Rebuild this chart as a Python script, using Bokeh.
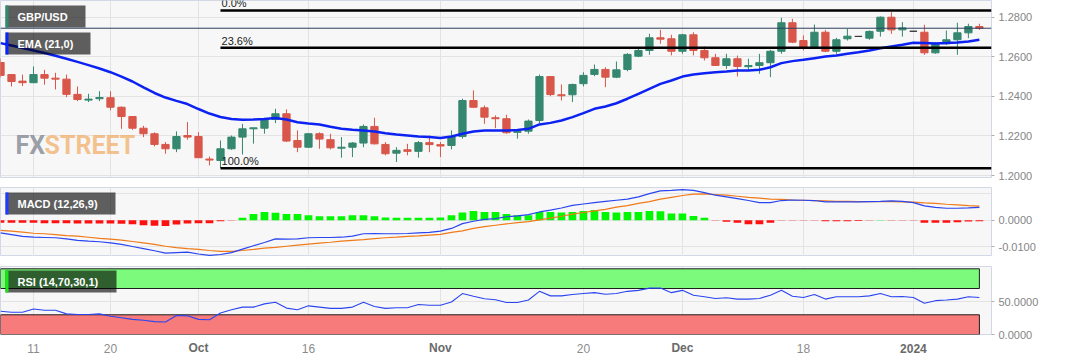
from bokeh.plotting import figure
from bokeh.layouts import column
from bokeh.models import (Range1d, FixedTicker, NumeralTickFormatter, Label,
                          BoxAnnotation, Span, ColumnDataSource)
from bokeh.core.properties import value
from bokeh.embed import file_html
from bokeh.resources import INLINE

# ---------------- data (daily GBP/USD, 6 Sep 2023 .. 9 Jan 2024) ----------------
opens = [1.2571, 1.2510, 1.2477, 1.2469, 1.2510, 1.2492, 1.2487, 1.2410, 1.2381, 1.2388,
         1.2393, 1.2345, 1.2298, 1.2239, 1.2211, 1.2157, 1.2135, 1.2202, 1.2197, 1.2083,
         1.2076, 1.2135, 1.2194, 1.2236, 1.2239, 1.2283, 1.2312, 1.2177, 1.2143, 1.2211,
         1.2181, 1.2138, 1.2143, 1.2164, 1.2248, 1.2157, 1.2113, 1.2130, 1.2122, 1.2166,
         1.2156, 1.2152, 1.2197, 1.2379, 1.2342, 1.2292, 1.2287, 1.2218, 1.2224, 1.2278,
         1.2500, 1.2408, 1.2408, 1.2464, 1.2511, 1.2536, 1.2497, 1.2536, 1.2603, 1.2632,
         1.2696, 1.2691, 1.2628, 1.2711, 1.2632, 1.2595, 1.2556, 1.2590, 1.2550, 1.2556,
         1.2570, 1.2628, 1.2772, 1.2682, 1.2648, 1.2724, 1.2628, 1.2691, 1.2703, 1.2694,
         1.2729, 1.2800, 1.2736, 1.2729, 1.2724, 1.2620, 1.2666, 1.2686, 1.2721, 1.2753]
highs = [1.2591, 1.2512, 1.2510, 1.2551, 1.2534, 1.2519, 1.2510, 1.2450, 1.2413, 1.2426,
         1.2426, 1.2349, 1.2298, 1.2251, 1.2218, 1.2169, 1.2223, 1.2270, 1.2219, 1.2096,
         1.2177, 1.2202, 1.2261, 1.2241, 1.2292, 1.2337, 1.2334, 1.2228, 1.2214, 1.2218,
         1.2211, 1.2194, 1.2169, 1.2258, 1.2292, 1.2169, 1.2143, 1.2160, 1.2174, 1.2202,
         1.2169, 1.2228, 1.2388, 1.2430, 1.2354, 1.2304, 1.2307, 1.2223, 1.2283, 1.2510,
         1.2500, 1.2460, 1.2464, 1.2522, 1.2561, 1.2547, 1.2576, 1.2618, 1.2645, 1.2716,
         1.2736, 1.2711, 1.2716, 1.2724, 1.2652, 1.2615, 1.2615, 1.2606, 1.2590, 1.2615,
         1.2635, 1.2797, 1.2792, 1.2708, 1.2763, 1.2736, 1.2696, 1.2741, 1.2705, 1.2733,
         1.2804, 1.2825, 1.2775, 1.2730, 1.2762, 1.2674, 1.2733, 1.2772, 1.2767, 1.2767]
lows = [1.2495, 1.2450, 1.2452, 1.2467, 1.2459, 1.2435, 1.2396, 1.2376, 1.2371, 1.2376,
        1.2329, 1.2236, 1.2231, 1.2194, 1.2147, 1.2110, 1.2118, 1.2181, 1.2088, 1.2051,
        1.2037, 1.2130, 1.2106, 1.2161, 1.2211, 1.2265, 1.2169, 1.2118, 1.2140, 1.2135,
        1.2132, 1.2090, 1.2093, 1.2143, 1.2157, 1.2102, 1.2068, 1.2102, 1.2090, 1.2118,
        1.2093, 1.2132, 1.2186, 1.2342, 1.2261, 1.2239, 1.2211, 1.2186, 1.2211, 1.2265,
        1.2401, 1.2379, 1.2371, 1.2450, 1.2502, 1.2446, 1.2492, 1.2527, 1.2598, 1.2610,
        1.2666, 1.2607, 1.2615, 1.2607, 1.2581, 1.2556, 1.2539, 1.2500, 1.2534, 1.2514,
        1.2497, 1.2615, 1.2669, 1.2632, 1.2640, 1.2623, 1.2615, 1.2682, 1.2700, 1.2686,
        1.2702, 1.2716, 1.2702, 1.2728, 1.2610, 1.2615, 1.2660, 1.2610, 1.2694, 1.2736]
closes = [1.2506, 1.2475, 1.2469, 1.2510, 1.2492, 1.2487, 1.2410, 1.2384, 1.2386, 1.2394,
          1.2345, 1.2298, 1.2239, 1.2211, 1.2157, 1.2135, 1.2197, 1.2194, 1.2090, 1.2078,
          1.2135, 1.2194, 1.2236, 1.2241, 1.2287, 1.2312, 1.2174, 1.2143, 1.2211, 1.2184,
          1.2140, 1.2143, 1.2164, 1.2248, 1.2160, 1.2110, 1.2127, 1.2122, 1.2166, 1.2156,
          1.2149, 1.2197, 1.2379, 1.2345, 1.2295, 1.2287, 1.2216, 1.2223, 1.2275, 1.2500,
          1.2409, 1.2403, 1.2460, 1.2506, 1.2536, 1.2497, 1.2534, 1.2612, 1.2632, 1.2696,
          1.2689, 1.2628, 1.2711, 1.2632, 1.2595, 1.2556, 1.2590, 1.2551, 1.2556, 1.2570,
          1.2628, 1.2772, 1.2674, 1.2648, 1.2724, 1.2628, 1.2686, 1.2704, 1.2703, 1.2728,
          1.2800, 1.2736, 1.2746, 1.2729, 1.2620, 1.2666, 1.2686, 1.2721, 1.2753, 1.2744]
ema21 = [1.2669, 1.2657, 1.2644, 1.2632, 1.2619, 1.2605, 1.2590, 1.2574, 1.2558, 1.2541,
         1.2522, 1.2500, 1.2475, 1.2445, 1.2417, 1.2394, 1.2377, 1.2361, 1.2336, 1.2313,
         1.2296, 1.2286, 1.2282, 1.2283, 1.2286, 1.2291, 1.2283, 1.2269, 1.2263, 1.2258,
         1.2246, 1.2236, 1.2231, 1.2227, 1.2222, 1.2214, 1.2207, 1.2202, 1.2197, 1.2194,
         1.2190, 1.2197, 1.2211, 1.2222, 1.2227, 1.2227, 1.2227, 1.2230, 1.2236, 1.2258,
         1.2266, 1.2278, 1.2295, 1.2315, 1.2337, 1.2349, 1.2365, 1.2388, 1.2413, 1.2438,
         1.2463, 1.2480, 1.2500, 1.2510, 1.2517, 1.2522, 1.2526, 1.2531, 1.2531, 1.2534,
         1.2547, 1.2568, 1.2578, 1.2585, 1.2593, 1.2601, 1.2606, 1.2615, 1.2623, 1.2632,
         1.2643, 1.2652, 1.2661, 1.2671, 1.2669, 1.2667, 1.2669, 1.2672, 1.2677, 1.2686]
macd = [-0.0048, -0.0054, -0.0061, -0.0064, -0.0065, -0.0066, -0.0070, -0.0076, -0.0079, -0.0081,
        -0.0085, -0.0091, -0.0099, -0.0107, -0.0115, -0.0124, -0.0122, -0.0120, -0.0127, -0.0132,
        -0.0129, -0.0122, -0.0109, -0.0096, -0.0084, -0.0070, -0.0071, -0.0070, -0.0066, -0.0065,
        -0.0065, -0.0064, -0.0060, -0.0051, -0.0050, -0.0051, -0.0051, -0.0050, -0.0048, -0.0046,
        -0.0041, -0.0031, -0.0013, -0.0004, 0.0003, 0.0006, 0.0013, 0.0016, 0.0021, 0.0031,
        0.0038, 0.0046, 0.0056, 0.0061, 0.0066, 0.0071, 0.0075, 0.0079, 0.0088, 0.0100,
        0.0110, 0.0112, 0.0115, 0.0112, 0.0104, 0.0094, 0.0088, 0.0081, 0.0074, 0.0066,
        0.0066, 0.0074, 0.0076, 0.0075, 0.0074, 0.0069, 0.0069, 0.0069, 0.0069, 0.0070,
        0.0071, 0.0073, 0.0071, 0.0066, 0.0054, 0.0048, 0.0045, 0.0045, 0.0046, 0.0048]
signal = [-0.0038, -0.0041, -0.0045, -0.0049, -0.0051, -0.0054, -0.0058, -0.0060, -0.0064, -0.0068,
          -0.0071, -0.0075, -0.0080, -0.0085, -0.0091, -0.0098, -0.0103, -0.0107, -0.0110, -0.0114,
          -0.0117, -0.0117, -0.0114, -0.0110, -0.0105, -0.0102, -0.0098, -0.0094, -0.0090, -0.0086,
          -0.0083, -0.0079, -0.0076, -0.0073, -0.0069, -0.0066, -0.0064, -0.0061, -0.0059, -0.0056,
          -0.0053, -0.0046, -0.0040, -0.0031, -0.0024, -0.0019, -0.0014, -0.0009, -0.0005, 0.0001,
          0.0008, 0.0015, 0.0023, 0.0029, 0.0035, 0.0041, 0.0049, 0.0055, 0.0063, 0.0070,
          0.0079, 0.0086, 0.0093, 0.0098, 0.0099, 0.0096, 0.0094, 0.0090, 0.0086, 0.0083,
          0.0079, 0.0078, 0.0076, 0.0075, 0.0074, 0.0073, 0.0071, 0.0071, 0.0070, 0.0070,
          0.0070, 0.0070, 0.0069, 0.0068, 0.0065, 0.0063, 0.0060, 0.0058, 0.0055, 0.0053]
hist = [-0.0010, -0.0010, -0.0010, -0.0010, -0.0011, -0.0011, -0.0011, -0.0012, -0.0012, -0.0012,
        -0.0012, -0.0013, -0.0015, -0.0019, -0.0021, -0.0022, -0.0016, -0.0012, -0.0011, -0.0011,
        -0.0004, -0.0001, 0.0009, 0.0023, 0.0031, 0.0028, 0.0023, 0.0023, 0.0019, 0.0015,
        0.0015, 0.0015, 0.0019, 0.0019, 0.0015, 0.0010, 0.0009, 0.0009, 0.0009, 0.0009,
        0.0010, 0.0019, 0.0029, 0.0035, 0.0031, 0.0031, 0.0023, 0.0019, 0.0019, 0.0031,
        0.0031, 0.0029, 0.0031, 0.0035, 0.0038, 0.0031, 0.0029, 0.0031, 0.0031, 0.0035,
        0.0034, 0.0025, 0.0025, 0.0016, 0.0009, -0.0001, -0.0006, -0.0010, -0.0015, -0.0015,
        -0.0010, -0.0001, -0.0001, -0.0001, -0.0001, -0.0004, -0.0004, -0.0004, -0.0003, -0.0001,
        0.0001, -0.0001, -0.0001, -0.0001, -0.0010, -0.0010, -0.0010, -0.0008, -0.0005, -0.0004]
rsi = [35.3, 33.8, 33.8, 38.7, 36.8, 36.8, 31.4, 30.4, 30.4, 31.4,
       27.9, 25.5, 23.0, 21.6, 19.6, 19.1, 28.9, 28.4, 23.0, 22.5,
       32.8, 37.7, 41.7, 41.7, 46.6, 49.0, 40.2, 37.7, 43.6, 41.7,
       39.7, 39.7, 41.7, 49.0, 42.6, 39.7, 40.7, 40.7, 45.6, 44.6,
       44.6, 49.5, 62.3, 58.3, 54.4, 53.0, 48.6, 48.6, 52.5, 65.7,
       58.8, 58.8, 60.8, 62.3, 63.7, 61.3, 62.3, 65.7, 67.2, 70.6,
       70.6, 63.7, 67.2, 59.8, 57.4, 54.9, 55.9, 53.9, 53.9, 54.9,
       59.8, 67.2, 58.3, 56.4, 60.8, 53.9, 57.4, 57.4, 57.4, 58.8,
       62.3, 57.4, 57.8, 56.4, 47.5, 51.5, 52.5, 53.9, 57.4, 56.4]
last_price = 1.274430
fib_high = 1.2834
fib_low = 1.2037
fib_start = 20
fib_pcts = [0.0, 23.6, 100.0]
fib_texts = ["0.0%", "23.6%", "100.0%"]
price_ticks = [1.20, 1.22, 1.24, 1.26, 1.28]
macd_ticks = [-0.01, 0.0]
rsi_ticks = [0, 50]
rsi_upper, rsi_lower = 70, 30
day_ticks = [3, 10, 28, 53, 73]
day_labels = ["11", "20", "16", "20", "18"]
month_ticks = [18, 40, 62, 83]
month_labels = ["Oct", "Nov", "Dec", "2024"]

# ---------------- layout / styling ----------------
W, RB = 1067, 76
F1, F2, F3 = 177, 69, 68          # frame heights
B1 = 10                           # gap below price panel (holds the panel handle)
T2, T3 = 0, 10                    # top borders of MACD / RSI panels
B3 = 6                            # room for the "0.0000" label under the RSI panel
H4 = 20
FONT = "Liberation Sans"
n = len(opens)
xs = list(range(n))
xr = Range1d(0, 90.1)
all_ticks = sorted(day_ticks + month_ticks)


def make_panel(frame_h, yr, top_border, bottom_border, axis_ticks, grid_ticks):
    p = figure(width=W, height=frame_h + top_border + bottom_border, x_range=xr, y_range=yr,
               output_backend="svg", toolbar_location=None,
               x_axis_location=None, y_axis_location="right",
               min_border_left=0, min_border_right=RB,
               min_border_top=top_border, min_border_bottom=bottom_border,
               background_fill_color="#f7f7f7", border_fill_color="white",
               outline_line_color="#d2d8e5")
    p.xgrid.ticker = FixedTicker(ticks=all_ticks)
    p.ygrid.ticker = FixedTicker(ticks=grid_ticks)
    p.grid.grid_line_color = "#e3e3e3"
    ax = p.yaxis[0]
    ax.ticker = FixedTicker(ticks=axis_ticks)
    ax.formatter = NumeralTickFormatter(format="0.0000")
    ax.axis_line_color = None
    ax.major_tick_line_color = "#b0b0b0"
    ax.major_tick_in = 0
    ax.major_tick_out = 3
    ax.minor_tick_line_color = None
    ax.major_label_text_font = FONT
    ax.major_label_text_font_size = "11px"
    ax.major_label_text_color = "#858585"
    ax.major_label_standoff = 4
    return p


def add_tag(p, frame_h, top_off, width, text, bar_color):
    top = frame_h - top_off
    bottom = top - 22
    p.add_layout(BoxAnnotation(left=5, right=5 + width, top=top, bottom=bottom,
                               left_units="screen", right_units="screen",
                               top_units="screen", bottom_units="screen",
                               fill_color="black", fill_alpha=0.62, line_color=None))
    p.add_layout(BoxAnnotation(left=5, right=8, top=top, bottom=bottom,
                               left_units="screen", right_units="screen",
                               top_units="screen", bottom_units="screen",
                               fill_color=bar_color, fill_alpha=1.0, line_color=None))
    p.add_layout(Label(x=17, y=(top + bottom) / 2, x_units="screen", y_units="screen",
                       text=text, text_font=FONT, text_font_size="11px",
                       text_font_style="bold", text_color="white",
                       text_baseline="middle"))


def add_handle(p, y):
    p.add_layout(Label(x=493, y=y, x_units="screen", y_units="screen",
                       text="\u2261", text_font="DejaVu Sans", text_font_size="9px",
                       text_color="#7a7a7a", text_align="center", text_baseline="middle"))


# ---------------- main price panel ----------------
p1 = make_panel(F1, Range1d(1.19899, 1.28844), 0, B1, price_ticks, price_ticks)

colors = []
for o, c in zip(opens, closes):
    colors.append("#35876f" if c > o else ("#d8574a" if c < o else "#3a3a3a"))
src = ColumnDataSource(dict(x=xs, h=highs, l=lows,
                            top=[max(o, c) for o, c in zip(opens, closes)],
                            bottom=[min(o, c) for o, c in zip(opens, closes)],
                            color=colors))
p1.segment(x0="x", y0="h", x1="x", y1="l", line_color="color", line_width=1, source=src)
p1.vbar(x="x", top="top", bottom="bottom", width=0.66, fill_color="color",
        line_color="color", line_width=1, source=src)

p1.line(xs, ema21, line_color="#0b22f2", line_width=2.5)

p1.add_layout(Span(location=last_price, dimension="width", line_color="#2b3f5e", line_width=1))

fib_prices = [fib_high - (fib_high - fib_low) * f / 100.0 for f in fib_pcts]
p1.segment(x0=[fib_start] * 3, y0=fib_prices, x1=[xr.end] * 3, y1=fib_prices,
           line_color="black", line_width=2.5)
for fp, ft in zip(fib_prices, fib_texts):
    p1.add_layout(Label(x=fib_start + 0.1, y=fp, x_units="data", y_units="data", y_offset=1,
                        text=ft, text_font=FONT, text_font_size="11px", text_color="#222222",
                        text_baseline="bottom", text_align="left"))

# watermark
p1.add_layout(Label(x=15, y=32, x_units="screen", y_units="screen", text="FX",
                    text_font="Roboto", text_font_style="bold", text_font_size="25px",
                    text_color="#8a8f9a", text_alpha=0.85, text_baseline="middle"))
p1.add_layout(Label(x=44, y=32, x_units="screen", y_units="screen", text="STREET",
                    text_font="Roboto", text_font_style="bold", text_font_size="25px",
                    text_color="#f2b06c", text_alpha=0.75, text_baseline="middle"))

add_tag(p1, F1, 5, 80, "GBP/USD", "#2e8a70")
add_tag(p1, F1, 32, 85, "EMA (21,0)", "#0a24ff")
add_handle(p1, -5)

# current price marker
p1.add_layout(Label(x=xr.end, y=last_price, x_units="data", y_units="data", x_offset=2,
                    text="\u25c0", text_font="DejaVu Sans", text_font_size="11px",
                    text_color="#2e4466", text_baseline="middle"))
p1.add_layout(Label(x=xr.end, y=last_price, x_units="data", y_units="data", x_offset=10,
                    text="%.6f" % last_price, text_font=FONT, text_font_size="11px",
                    text_font_style="bold", text_color="white", text_baseline="middle",
                    background_fill_color="#2e4466", background_fill_alpha=1.0,
                    padding=2))

# ---------------- MACD panel ----------------
p2 = make_panel(F2, Range1d(-0.01365, 0.0123), T2, 0, macd_ticks, [-0.01, 0.0, 0.01])
hist_colors = ["#00f700" if v > 0 else "#ff1010" for v in hist]
p2.vbar(x=xs, top=hist, bottom=0, width=0.7, fill_color=hist_colors, line_color=None)
p2.line(xs, signal, line_color="#f07a18", line_width=1.2)
p2.line(xs, macd, line_color="#2a45f0", line_width=1.2)
add_tag(p2, F2, 5, 110, "MACD (12,26,9)", "#1f3cff")

# ---------------- RSI panel ----------------
p3 = make_panel(F3, Range1d(0, 103.5), T3, B3, rsi_ticks, [50])
p3.quad(left=[xs[0]], right=[xs[-1]], bottom=[rsi_upper], top=[100],
        fill_color="#7cfa7c", line_color="#1e1e1e", line_width=1)
p3.quad(left=[xs[0]], right=[xs[-1]], bottom=[0], top=[rsi_lower],
        fill_color="#f87b7b", line_color="#1e1e1e", line_width=1)
p3.line(xs, rsi, line_color="#2a45f0", line_width=1.1)
add_tag(p3, F3, 4, 111, "RSI (14,70,30,1)", "#19e619")
add_handle(p3, F3 + 5)

# ---------------- date axis strip ----------------
p4 = figure(width=W, height=H4, x_range=xr, y_range=Range1d(0, 1),
            output_backend="svg", toolbar_location=None,
            x_axis_location=None, y_axis_location=None,
            min_border_left=0, min_border_right=RB, min_border_top=0, min_border_bottom=0,
            background_fill_color="white", border_fill_color="white", outline_line_color=None)
p4.grid.visible = False
p4.text(x=day_ticks, y=[0.62] * len(day_ticks), text=day_labels,
        text_font=value(FONT), text_font_size="12px", text_color="#8c8c8c",
        text_align="center", text_baseline="middle")
p4.text(x=month_ticks, y=[0.62] * len(month_ticks), text=month_labels,
        text_font=value(FONT), text_font_size="12px", text_font_style=value("bold"),
        text_color="#6a6a6a", text_align="center", text_baseline="middle")

layout = column(p1, p2, p3, p4, spacing=0)
open("out.html", "w").write(file_html(layout, INLINE, "GBP/USD"))
